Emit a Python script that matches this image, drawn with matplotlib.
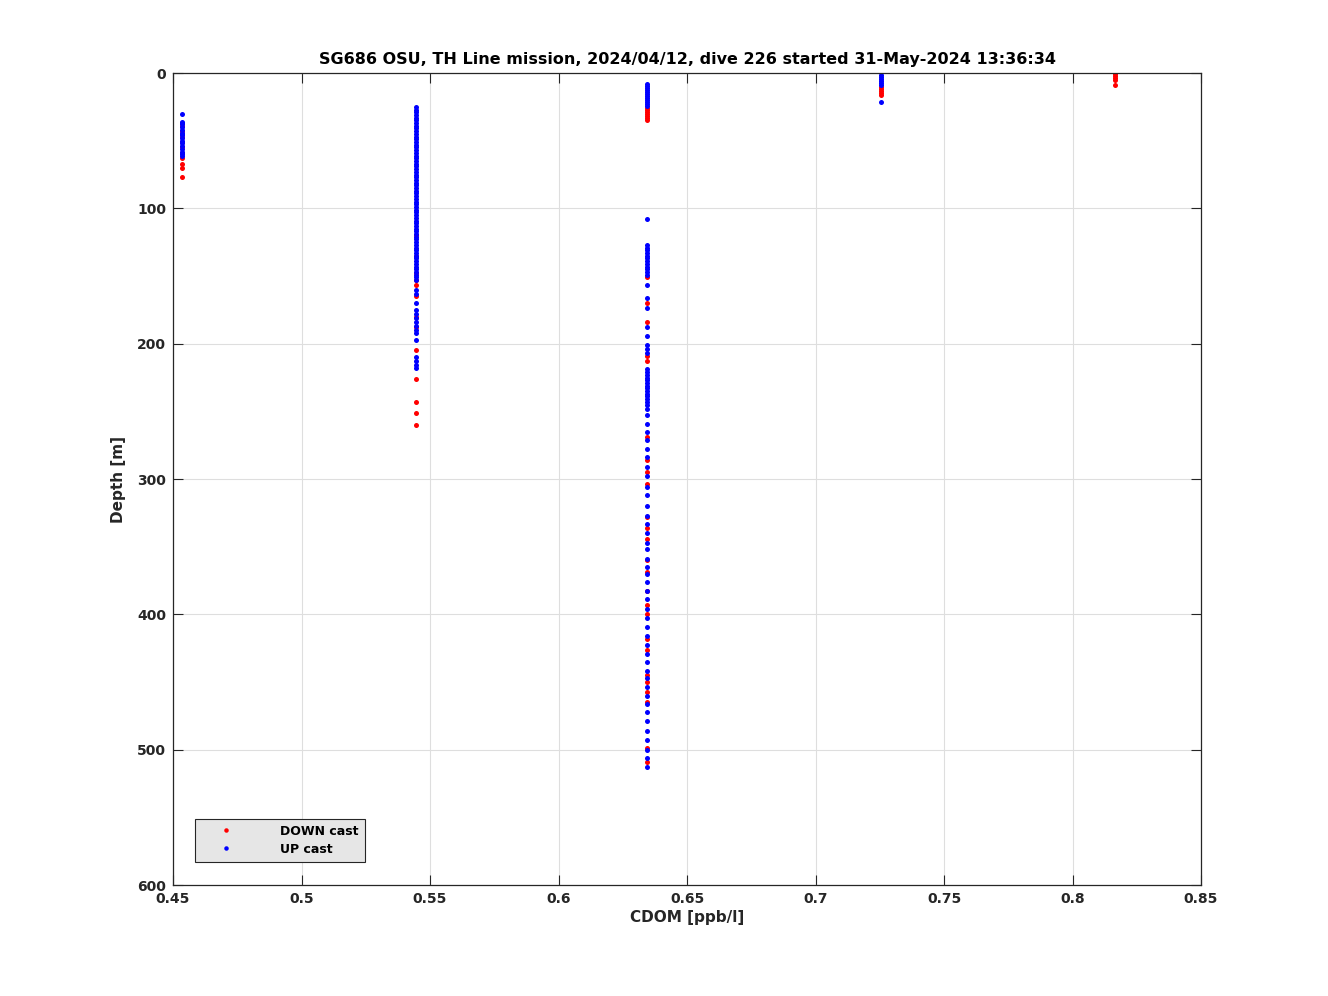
import matplotlib.pyplot as plt
from matplotlib.ticker import FormatStrFormatter, FuncFormatter

# CDOM levels (instrument output is quantised, so samples fall on a few columns)
cdom_levels = [0.4535, 0.5445, 0.6345, 0.7255, 0.8165]

# DOWN cast depths [m] per CDOM level
down_d1 = [39, 43, 47, 51, 55, 59, 63, 67, 70, 77]
down_d2 = [120, 135, 148, 153, 157, 165, 180, 188, 205, 226, 243, 251, 260]
down_d3 = [26, 27.5, 29, 30.5, 32, 33.5, 35, 151, 170, 184, 209, 213, 269, 286,
           295, 304, 328, 336, 344, 360, 369, 383, 393, 400, 418, 426, 445,
           450, 457, 465, 499, 509]
down_d4 = [10, 11.5, 13, 14.5, 16]
down_d5 = [1, 2.5, 4, 5.5, 9]

# UP cast depths [m] per CDOM level
up_d1 = [30, 36, 37, 38, 40, 42, 44, 45, 46, 48, 50, 52, 54, 56, 58, 60, 61]
up_d2 = [25, 27, 29, 31, 33, 35, 37, 39, 41, 43, 45, 47, 49, 51, 53, 55, 57,
         59, 61, 63, 65, 67, 69, 71, 73, 75, 77, 79, 81, 83, 85, 87, 89, 91,
         93, 95, 97, 99, 101, 103, 105, 107, 109, 111, 113, 115, 117, 119,
         121, 123, 125, 127, 129, 131, 133, 135, 137, 139, 141, 143, 145, 147,
         149, 151, 153, 160, 163, 170, 175, 178, 181, 184, 187, 190, 192, 197,
         210, 213, 216, 218]
up_d3 = [8, 9.5, 11, 12.5, 14, 15.5, 17, 18.5, 20, 21.5, 23, 24.5, 108, 127,
         129, 131, 133, 135, 137, 139, 141, 143, 145, 147, 149, 157, 166, 174,
         188, 194, 201, 204, 207, 219, 221, 223, 225, 227, 229, 231, 233, 235,
         237, 239, 241, 243, 245, 248, 253, 259, 265, 271, 278, 284, 291, 298,
         306, 312, 320, 327, 333, 340, 347, 352, 359, 365, 370, 376, 383, 389,
         396, 403, 409, 416, 423, 429, 435, 442, 447, 454, 460, 466, 472, 479,
         486, 493, 500, 506, 513]
up_d4 = [1.5, 3, 4.5, 6, 7.5, 9, 21.5]
up_d5 = []

down_sets = [down_d1, down_d2, down_d3, down_d4, down_d5]
up_sets = [up_d1, up_d2, up_d3, up_d4, up_d5]

title = "SG686 OSU, TH Line mission, 2024/04/12, dive 226 started 31-May-2024 13:36:34"

plt.rcParams['font.family'] = ['DejaVu Sans']
plt.rcParams['font.weight'] = 'bold'
plt.rcParams['text.color'] = '#262626'
plt.rcParams['xtick.color'] = '#262626'
plt.rcParams['ytick.color'] = '#262626'
plt.rcParams['axes.labelcolor'] = '#262626'

fig = plt.figure(figsize=(13.28, 9.96), dpi=100)
ax = fig.add_axes([0.1303, 0.1114, 0.7741, 0.8153])

dx, dy = [], []
for c, ds in zip(cdom_levels, down_sets):
    dx += [c] * len(ds)
    dy += ds
ux, uy = [], []
for c, ds in zip(cdom_levels, up_sets):
    ux += [c] * len(ds)
    uy += ds

ax.plot(dx, dy, 'o', color='red', markersize=3.6, markeredgewidth=0, label='DOWN cast')
ax.plot(ux, uy, 'o', color='blue', markersize=3.6, markeredgewidth=0, label='UP cast')

ax.set_xlim(0.45, 0.85)
ax.set_ylim(600, 0)
ax.set_xticks([0.45, 0.5, 0.55, 0.6, 0.65, 0.7, 0.75, 0.8, 0.85])
ax.set_yticks([0, 100, 200, 300, 400, 500, 600])
ax.xaxis.set_major_formatter(FuncFormatter(lambda v, p: '%g' % round(v, 2)))
ax.yaxis.set_major_formatter(FormatStrFormatter('%d'))

ax.grid(True, color='#dedede', linewidth=0.8)
ax.set_axisbelow(True)
ax.tick_params(direction='in', length=7, width=0.8, top=True, right=True,
               labelsize=10, pad=5)
for s in ax.spines.values():
    s.set_linewidth(0.9)
    s.set_edgecolor('#262626')

ax.set_xlabel('CDOM [ppb/l]', fontsize=11, fontweight='bold', labelpad=3)
ax.set_ylabel('Depth [m]', fontsize=11, fontweight='bold', labelpad=8)
ax.set_title(title, fontsize=11.5, fontweight='bold', pad=6.5, color='black')

leg = ax.legend(loc='lower left', bbox_to_anchor=(0.0214, 0.0283), borderaxespad=0,
                fontsize=9, frameon=True, fancybox=False, handlelength=4.0,
                handletextpad=2.3, borderpad=0.5, labelspacing=0.4, markerscale=0.9)
leg.get_frame().set_facecolor('#e6e6e6')
leg.get_frame().set_edgecolor('#262626')
leg.get_frame().set_alpha(1)
leg.get_frame().set_linewidth(0.8)
for t in leg.get_texts():
    t.set_fontweight('bold')
    t.set_color('black')

fig.savefig('out.png', dpi=100)
